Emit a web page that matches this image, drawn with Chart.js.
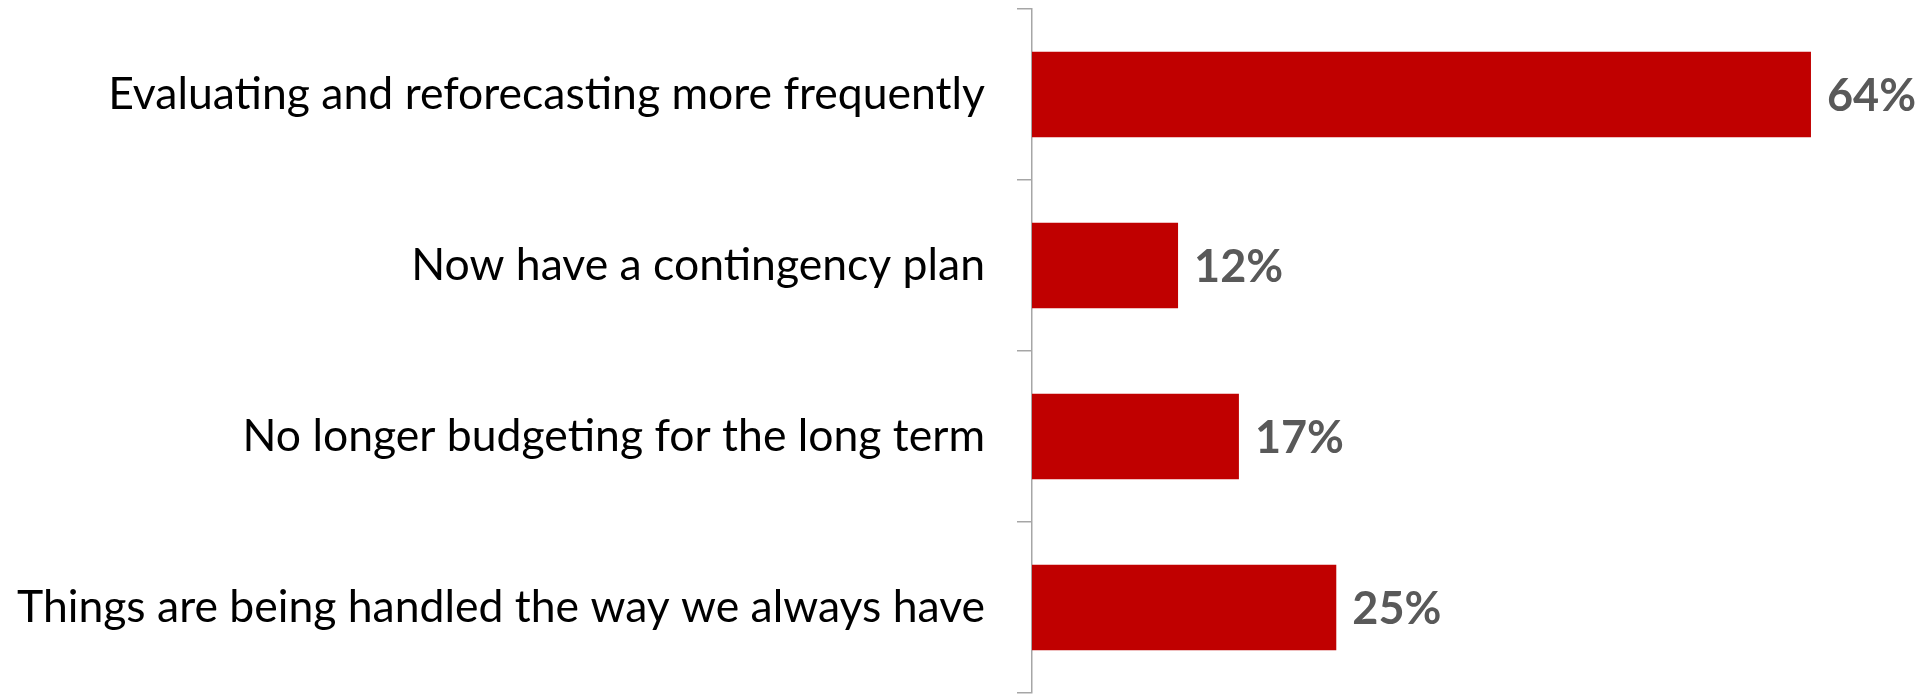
<!DOCTYPE html>
<html>
<head>
<meta charset="utf-8">
<script src="https://cdn.jsdelivr.net/npm/chart.js@4"></script>
<style>
  html, body { margin: 0; padding: 0; background: #ffffff; }
  #wrap { width: 1926px; height: 694px; position: relative; }
</style>
</head>
<body>
<div id="wrap"><canvas id="c"></canvas></div>
<script>
const categories = [
  "Evaluating and reforecasting more frequently",
  "Now have a contingency plan",
  "No longer budgeting for the long term",
  "Things are being handled the way we always have"
];
const values = [64, 12, 17, 25];
const valueSuffix = "%";

const barColor = "#C00000";
const axisColor = "#A6A6A6";

const valueLabels = {
  id: "valueLabels",
  afterDatasetsDraw(chart) {
    const ctx = chart.ctx;
    const meta = chart.getDatasetMeta(0);
    ctx.save();
    ctx.font = "bold 45px Lato";
    ctx.fillStyle = "#595959";
    ctx.textAlign = "left";
    ctx.textBaseline = "middle";
    meta.data.forEach((bar, i) => {
      ctx.fillText(values[i] + valueSuffix, bar.x + 16, bar.y + 2);
    });
    ctx.restore();
  }
};

new Chart(document.getElementById("c"), {
  type: "bar",
  data: {
    labels: categories,
    datasets: [{
      data: values,
      backgroundColor: barColor,
      borderWidth: 0,
      barPercentage: 0.5,
      categoryPercentage: 1.0
    }]
  },
  options: {
    indexAxis: "y",
    responsive: true,
    maintainAspectRatio: false,
    animation: false,
    layout: { padding: { top: 9, bottom: 1, left: 0, right: 42 } },
    plugins: {
      legend: { display: false },
      tooltip: { enabled: false }
    },
    scales: {
      x: {
        display: false,
        min: 0,
        max: 70
      },
      y: {
        afterFit(scale) {
          scale.width = 1032;
          scale.paddingTop = 0;
          scale.paddingBottom = 0;
        },
        border: { display: true, color: axisColor, width: 1.5 },
        grid: {
          offset: true,
          drawOnChartArea: false,
          drawTicks: true,
          tickLength: 15,
          color: axisColor,
          lineWidth: 1.5
        },
        ticks: {
          color: "#000000",
          padding: 32,
          font: { family: "Lato", size: 44.5 }
        }
      }
    }
  },
  plugins: [valueLabels]
});
</script>
</body>
</html>
